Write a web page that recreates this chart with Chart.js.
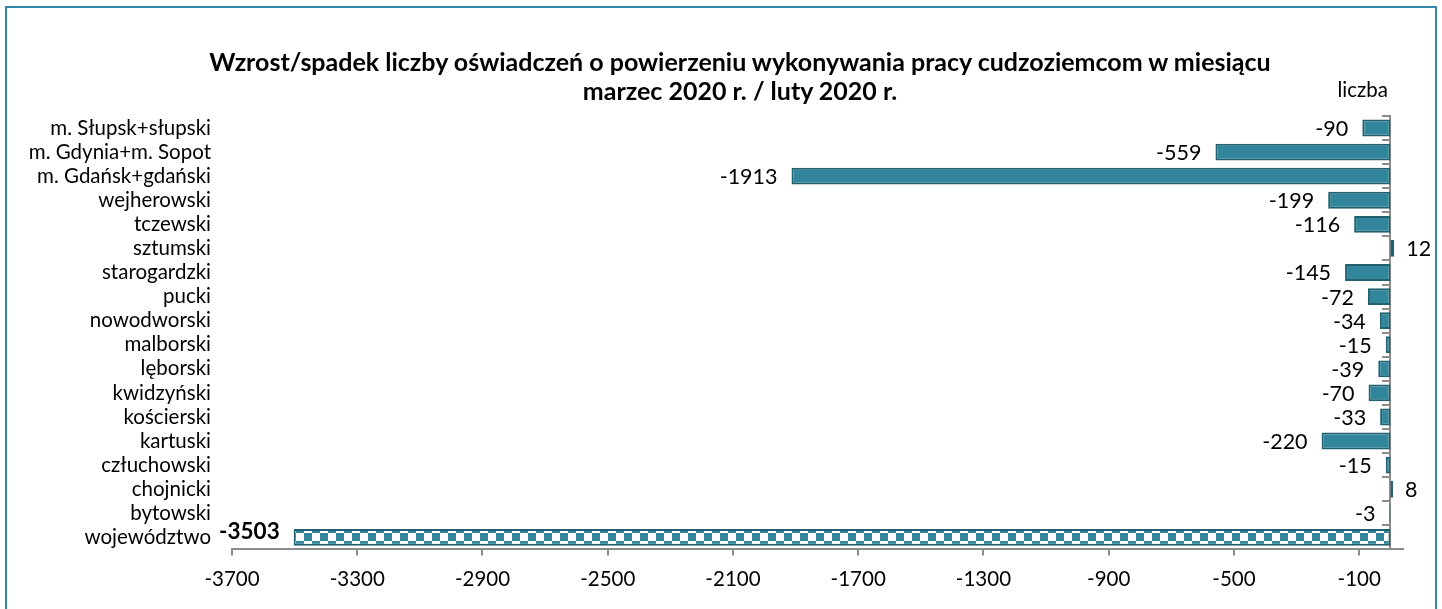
<!DOCTYPE html>
<html lang="pl">
<head>
<meta charset="utf-8">
<title>Wzrost/spadek liczby oświadczeń</title>
<script src="https://cdn.jsdelivr.net/npm/chart.js@4.4.1/dist/chart.umd.min.js"></script>
<style>
  html, body { margin: 0; padding: 0; background: #fff; overflow: hidden; }
  #wrap { position: relative; width: 1442px; height: 609px; font-family: Lato, 'Open Sans', sans-serif; }
  #frame {
    position: absolute; left: 5px; top: 6px; width: 1428px; height: 700px;
    border: 2px solid #3588A5; pointer-events: none;
  }
  #chart { position: absolute; left: 0; top: 0; }
  #title {
    position: absolute; left: 0; top: 47px; width: 1480px;
    text-align: center; font-weight: bold; font-size: 25px; line-height: 29px; color: #000;
  }
</style>
</head>
<body>
<div id="wrap">
  <canvas id="chart" width="1442" height="609"></canvas>
  <div id="title"></div>
  <div id="frame"></div>
</div>
<script>
// ============================
// Data
// ============================
const categories = [
  "m. Słupsk+słupski",
  "m. Gdynia+m. Sopot",
  "m. Gdańsk+gdański",
  "wejherowski",
  "tczewski",
  "sztumski",
  "starogardzki",
  "pucki",
  "nowodworski",
  "malborski",
  "lęborski",
  "kwidzyński",
  "kościerski",
  "kartuski",
  "człuchowski",
  "chojnicki",
  "bytowski",
  "województwo",
];
const changes = [-90, -559, -1913, -199, -116, 12, -145, -72, -34, -15, -39, -70, -33, -220, -15, 8, -3, -3503];
const xTicks = [-3700, -3300, -2900, -2500, -2100, -1700, -1300, -900, -500, -100];

const titleLines = [
  "Wzrost/spadek liczby oświadczeń o powierzeniu wykonywania pracy cudzoziemcom w miesiącu",
  "marzec 2020 r. / luty 2020 r.",
];
const unitLabel = "liczba";

// ============================
// Styles
// ============================
const TEAL = "#31869B";
const TEAL_DARK = "#21606F";
const AXIS_GRAY = "#8C8C8C";
const FONT = "Lato, 'Open Sans', sans-serif";

document.getElementById("title").innerHTML = titleLines.join("<br>");

// checkered fill for the province total
function makeChecker() {
  const c = document.createElement("canvas");
  c.width = 16;
  c.height = 16;
  const g = c.getContext("2d");
  g.fillStyle = "#fff";
  g.fillRect(0, 0, 16, 16);
  g.fillStyle = TEAL;
  g.fillRect(0, 0, 8, 8);
  g.fillRect(8, 8, 8, 8);
  const p = document.getElementById("chart").getContext("2d").createPattern(c, "repeat");
  p.setTransform(new DOMMatrix().translate(0, 5));
  return p;
}
const checker = makeChecker();
const fills = changes.map((_, i) => (i === changes.length - 1 ? checker : TEAL));

// ============================
// Plugins
// ============================
const valueLabels = {
  id: "valueLabels",
  afterDatasetsDraw(chart) {
    const ctx = chart.ctx;
    const meta = chart.getDatasetMeta(0);
    meta.data.forEach((bar, i) => {
      const v = changes[i];
      const total = i === changes.length - 1;
      ctx.save();
      ctx.font = total ? "bold 22.5px " + FONT : "21.5px " + FONT;
      ctx.fillStyle = "#000";
      ctx.textBaseline = "middle";
      const y = total ? bar.y - 6 : bar.y + 1;
      if (v < 0) {
        ctx.textAlign = "right";
        ctx.fillText(String(v), bar.x - 14, y);
      } else {
        ctx.textAlign = "left";
        ctx.fillText(String(v), bar.x + 12, y);
      }
      ctx.restore();
    });
  },
};

const unitText = {
  id: "unitText",
  afterDraw(chart) {
    const { ctx, chartArea } = chart;
    ctx.save();
    ctx.font = "20.5px " + FONT;
    ctx.fillStyle = "#000";
    ctx.textAlign = "right";
    ctx.textBaseline = "alphabetic";
    ctx.fillText(unitLabel, chartArea.right - 15, chartArea.top - 19);
    ctx.restore();
  },
};

// ============================
// Chart
// ============================
new Chart(document.getElementById("chart"), {
  type: "bar",
  data: {
    labels: categories,
    datasets: [
      {
        data: changes,
        backgroundColor: fills,
        borderColor: TEAL_DARK,
        borderWidth: 2,
        borderSkipped: false,
        categoryPercentage: 1,
        barPercentage: 0.7,
      },
    ],
  },
  options: {
    indexAxis: "y",
    responsive: false,
    animation: false,
    layout: { padding: { left: 10, right: 39, top: 116, bottom: 5 } },
    plugins: {
      legend: { display: false },
      tooltip: { enabled: false },
      title: { display: false },
    },
    scales: {
      x: {
        min: -3700,
        max: 40,
        afterBuildTicks: (scale) => {
          scale.ticks = xTicks.map((v) => ({ value: v }));
        },
        grid: {
          drawOnChartArea: false,
          tickLength: 6,
          color: AXIS_GRAY,
          lineWidth: 2,
        },
        border: { color: AXIS_GRAY, width: 2 },
        ticks: {
          color: "#000",
          padding: 12,
          maxRotation: 0,
          font: { family: FONT, size: 20.5 },
          callback: (v) => String(v),
        },
      },
      y: {
        position: "left",
        grid: { display: false },
        border: { display: false },
        ticks: {
          color: "#000",
          padding: 13,
          autoSkip: false,
          font: { family: FONT, size: 20.5 },
        },
        afterFit: (scale) => {
          scale.width = 222;
        },
      },
      // vertical axis line at zero, ticks between categories
      zeroAxis: {
        type: "category",
        axis: "y",
        position: { x: 0 },
        offset: true,
        grid: {
          offset: true,
          drawOnChartArea: false,
          tickLength: 7,
          color: AXIS_GRAY,
          lineWidth: 2,
        },
        border: { color: AXIS_GRAY, width: 2 },
        ticks: { display: false },
      },
    },
  },
  plugins: [valueLabels, unitText],
});
</script>
</body>
</html>
